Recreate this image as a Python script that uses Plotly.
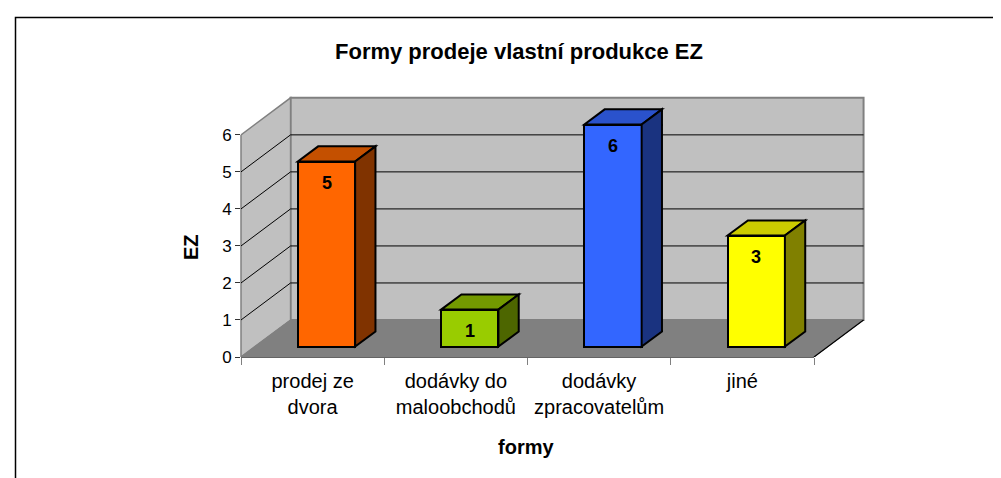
import plotly.graph_objects as go

# ---------------- data ----------------
categories = ["prodej ze<br>dvora", "dodávky do<br>maloobchodů", "dodávky<br>zpracovatelům", "jiné"]
values = [5, 1, 6, 3]
front_colors = ["#FF6600", "#99CC00", "#3366FF", "#FFFF00"]
top_colors = ["#C45000", "#739900", "#2A52CC", "#CCCC00"]
side_colors = ["#803300", "#4D6600", "#1A3380", "#808000"]
y_ticks = [0, 1, 2, 3, 4, 5, 6]
title_text = "Formy prodeje vlastní produkce EZ"
x_title = "formy"
y_title = "EZ"

# ---------------- 3D projection parameters ----------------
DX = 0.346      # horizontal shift of full depth (category units)
DY = 1.0        # vertical shift of full depth (value units)
BAR_W = 0.4     # bar width (category units)
D0, D1 = 0.28, 0.69   # bar front / back depth fractions
YMAX = max(y_ticks)
n = len(categories)

W, H = 1001, 478
L, R, T, B = 233, 142, 88, 129
PW, PH = W - L - R, H - T - B
x_range = [-0.5, n - 0.5 + DX + 0.024]
y_range = [0, YMAX + DY + 0.05]


def px_x(p):
    return (p - L) / PW


def px_y(p):
    return (H - B - p) / PH


FONT = "Arial, 'Liberation Sans', sans-serif"
shapes = []


def poly(pts, fill, line_color, lw, layer="below"):
    d = "M " + " L ".join(f"{x},{y}" for x, y in pts) + " Z"
    shapes.append(dict(type="path", path=d, xref="x", yref="y", fillcolor=fill,
                       line=dict(color=line_color, width=lw), layer=layer))


def seg(x0, y0, x1, y1, color, lw, xref="x", yref="y", layer="below"):
    shapes.append(dict(type="line", x0=x0, y0=y0, x1=x1, y1=y1, xref=xref, yref=yref,
                       line=dict(color=color, width=lw), layer=layer))


xl, xr = -0.5, n - 0.5
# back wall
poly([(xl + DX, DY), (xr + DX, DY), (xr + DX, YMAX + DY), (xl + DX, YMAX + DY)],
     "#C0C0C0", "#808080", 2)
# side wall
poly([(xl, 0), (xl, YMAX), (xl + DX, YMAX + DY), (xl + DX, DY)], "#C0C0C0", "#808080", 1.5)
# floor
poly([(xl, 0), (xr, 0), (xr + DX, DY), (xl + DX, DY)], "#808080", "#808080", 1)
# gridlines on back wall and side wall
for v in y_ticks[1:-1]:
    seg(xl + DX, v + DY, xr + DX, v + DY, "#000000", 1)
    seg(xl, v, xl + DX, v + DY, "#000000", 1)
# floor edges
seg(xr, 0, xr + DX, DY, "#000000", 1.2)
seg(xl, 0, xr, 0, "#303030", 1.5, xref="x", yref="paper")
# y axis line (front edge of side wall)
seg(0, 0, 0, YMAX, "#808080", 1.5, xref="paper", yref="y")

# bar tops and sides
for i, v in enumerate(values):
    Lf = i - BAR_W / 2 + D0 * DX
    Rf = i + BAR_W / 2 + D0 * DX
    b0 = D0 * DY
    ddx = (D1 - D0) * DX
    ddy = (D1 - D0) * DY
    poly([(Lf, v + b0), (Rf, v + b0), (Rf + ddx, v + b0 + ddy), (Lf + ddx, v + b0 + ddy)],
         top_colors[i], "#000000", 2, layer="above")
    poly([(Rf, b0), (Rf, v + b0), (Rf + ddx, v + b0 + ddy), (Rf + ddx, b0 + ddy)],
         side_colors[i], "#000000", 2, layer="above")

# frame
shapes.append(dict(type="rect", xref="paper", yref="paper",
                   x0=px_x(7.5), y0=px_y(490), x1=px_x(1010), y1=px_y(9.5),
                   line=dict(color="#000000", width=1.5), fillcolor="rgba(0,0,0,0)", layer="above"))

fig = go.Figure()
fig.add_trace(go.Bar(
    x=list(range(n)), y=values, base=D0 * DY, width=BAR_W,
    offset=-BAR_W / 2 + D0 * DX,
    marker=dict(color=front_colors, line=dict(color="#000000", width=2)),
    hoverinfo="skip", showlegend=False,
))
# invisible trace so that the boundary tick axis exists
fig.add_trace(go.Scatter(x=[], y=[], xaxis="x2", yaxis="y", showlegend=False, hoverinfo="skip"))

annotations = []
for i, v in enumerate(values):
    annotations.append(dict(x=i + D0 * DX, y=v + D0 * DY, xref="x", yref="y", text=f"<b>{v}</b>",
                            showarrow=False, yanchor="middle", yshift=-21,
                            font=dict(size=18, color="#000000", family=FONT)))
annotations.append(dict(x=px_x(518), y=px_y(439), xref="paper", yref="paper", text=f"<b>{x_title}</b>",
                        showarrow=False, xanchor="center", yanchor="middle",
                        font=dict(size=20, color="#000000", family=FONT)))
annotations.append(dict(x=px_x(183), y=px_y(239), xref="paper", yref="paper", text=f"<b>{y_title}</b>",
                        showarrow=False, xanchor="center", yanchor="middle", textangle=-90,
                        font=dict(size=20, color="#000000", family=FONT)))

fig.update_layout(
    width=W, height=H,
    margin=dict(l=L, r=R, t=T, b=B, pad=0),
    paper_bgcolor="#FFFFFF", plot_bgcolor="rgba(0,0,0,0)",
    title=dict(text=f"<b>{title_text}</b>", x=511 / W, xref="container", xanchor="center",
               y=1 - 43 / H, yref="container", yanchor="middle",
               font=dict(size=22, color="#000000", family=FONT)),
    font=dict(family=FONT, color="#000000"),
    xaxis=dict(range=x_range, tickvals=list(range(n)), ticktext=categories, ticks="",
               showline=False, showgrid=False, zeroline=False,
               tickfont=dict(size=20, color="#000000", family=FONT), ticklabelstandoff=10),
    xaxis2=dict(range=x_range, overlaying="x", anchor="y", side="bottom",
                tickvals=[i - 0.5 for i in range(n + 1)], ticks="outside", ticklen=7,
                tickcolor="#808080", tickwidth=1, showticklabels=False,
                showline=False, showgrid=False, zeroline=False),
    yaxis=dict(range=y_range, tickvals=y_ticks, ticks="outside", ticklen=5, tickcolor="#333333",
               showline=False, showgrid=False, zeroline=False,
               tickfont=dict(size=17, color="#000000", family=FONT)),
    shapes=shapes,
    annotations=annotations,
    bargap=0,
)

fig.write_html("out.html")
